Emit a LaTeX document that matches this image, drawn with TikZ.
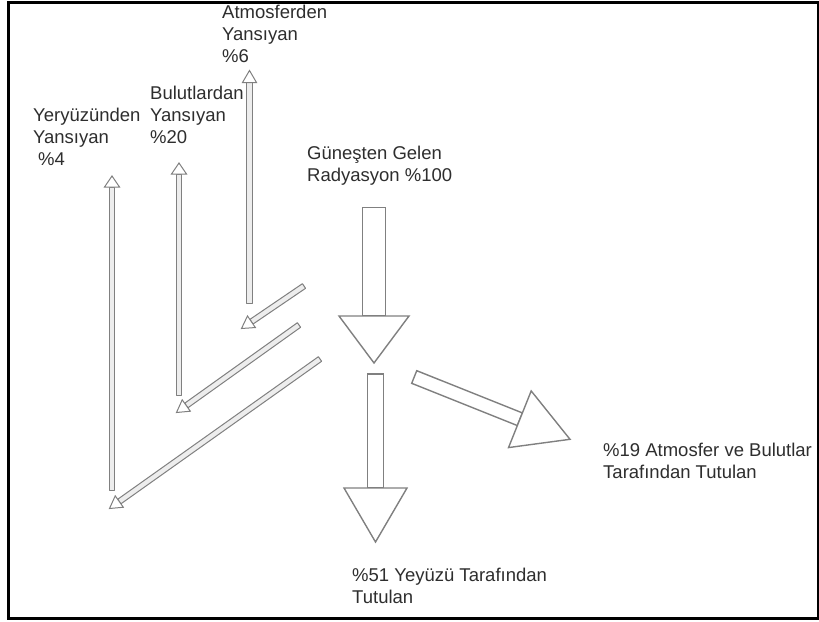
\documentclass[tikz,border=0pt]{standalone}
\usepackage{fontspec}
\setmainfont{Liberation Sans}
\usetikzlibrary{calc}
\newcommand{\blockarr}[7]{%
  % #1 start, #2 tip, #3 shaft half width, #4 head half width, #5 head length, #6 shaft style, #7 head style
  \coordinate (hb) at ($(#2)!#5!(#1)$);
  \draw[#6] ($(#1)!#3!90:(#2)$) -- ($(hb)!#3!-90:(#1)$) -- ($(hb)!#3!90:(#1)$) -- ($(#1)!#3!-90:(#2)$) -- cycle;
  \draw[#7] ($(hb)!#4!-90:(#1)$) -- (#2) -- ($(hb)!#4!90:(#1)$) -- cycle;
}
\begin{document}
\begin{tikzpicture}[x=1pt,y=-1pt,
  lbl/.style={anchor=base west, inner sep=0pt, text=black!82, font=\fontsize{18.5}{22}\selectfont},
  bigshaft/.style={draw=black!50, line width=1.4pt, fill=white, line join=miter},
  bighead/.style={draw=black!50, line width=1.4pt, fill=white, line join=miter},
  thinshaft/.style={draw=black!50, line width=1pt, fill=black!7, line join=round},
  thinhead/.style={draw=black!50, line width=1pt, fill=white, line join=miter}]
\useasboundingbox (0,0) rectangle (819,621);
\fill[white] (0,0) rectangle (819,621);
\draw[line width=3pt, black] (8,2) rectangle (818,618);

% labels
\node[lbl] (atm) at (222,18) {\begin{tabular}[t]{@{}l@{}}Atmosferden\\Yansıyan\\\%6\end{tabular}};
\node[lbl] (bul) at (150,99) {\begin{tabular}[t]{@{}l@{}}Bulutlardan\\Yansıyan\\\%20\end{tabular}};
\node[lbl] (yer) at (33,121) {\begin{tabular}[t]{@{}l@{}}Yeryüzünden\\Yansıyan\\\hspace{5pt}\%4\end{tabular}};
\node[lbl] (gun) at (307,159) {\begin{tabular}[t]{@{}l@{}}Güneşten Gelen\\Radyasyon \%100\end{tabular}};
\node[lbl] (atb) at (603,456) {\begin{tabular}[t]{@{}l@{}}\%19 Atmosfer ve Bulutlar\\Tarafından Tutulan\end{tabular}};
\node[lbl] (yey) at (352,581) {\begin{tabular}[t]{@{}l@{}}\%51 Yeyüzü Tarafından\\Tutulan\end{tabular}};

% big arrows
\coordinate (b1s) at (374,207.5); \coordinate (b1t) at (374,363);
\coordinate (b2s) at (375.5,374); \coordinate (b2t) at (375.5,542);
\coordinate (b3s) at (414.2,377); \coordinate (b3t) at (570,439.3);
\blockarr{b1s}{b1t}{11.75pt}{35pt}{47pt}{bigshaft}{bighead}
\blockarr{b2s}{b2t}{8pt}{31.5pt}{54pt}{bigshaft}{bighead}
\blockarr{b3s}{b3t}{6.8pt}{30.5pt}{54pt}{bigshaft}{bighead}

% thin arrows: vertical
\coordinate (v1s) at (249.5,303); \coordinate (v1t) at (249.5,70.5);
\coordinate (v2s) at (179,395); \coordinate (v2t) at (179,163);
\coordinate (v3s) at (112,490); \coordinate (v3t) at (112,176);
\blockarr{v1s}{v1t}{2.8pt}{7pt}{12pt}{thinshaft}{thinhead}
\blockarr{v2s}{v2t}{2.8pt}{7.5pt}{11pt}{thinshaft}{thinhead}
\blockarr{v3s}{v3t}{2.8pt}{7.5pt}{11pt}{thinshaft}{thinhead}

% thin arrows: diagonal
\coordinate (d1s) at (304,286); \coordinate (d1t) at (241.5,328.5);
\coordinate (d2s) at (299,325); \coordinate (d2t) at (176.5,412.5);
\coordinate (d3s) at (320,359); \coordinate (d3t) at (109.5,508.5);
\blockarr{d1s}{d1t}{2.8pt}{7pt}{12pt}{thinshaft}{thinhead}
\blockarr{d2s}{d2t}{2.8pt}{7pt}{12pt}{thinshaft}{thinhead}
\blockarr{d3s}{d3t}{2.8pt}{7pt}{12pt}{thinshaft}{thinhead}
\end{tikzpicture}
\end{document}
